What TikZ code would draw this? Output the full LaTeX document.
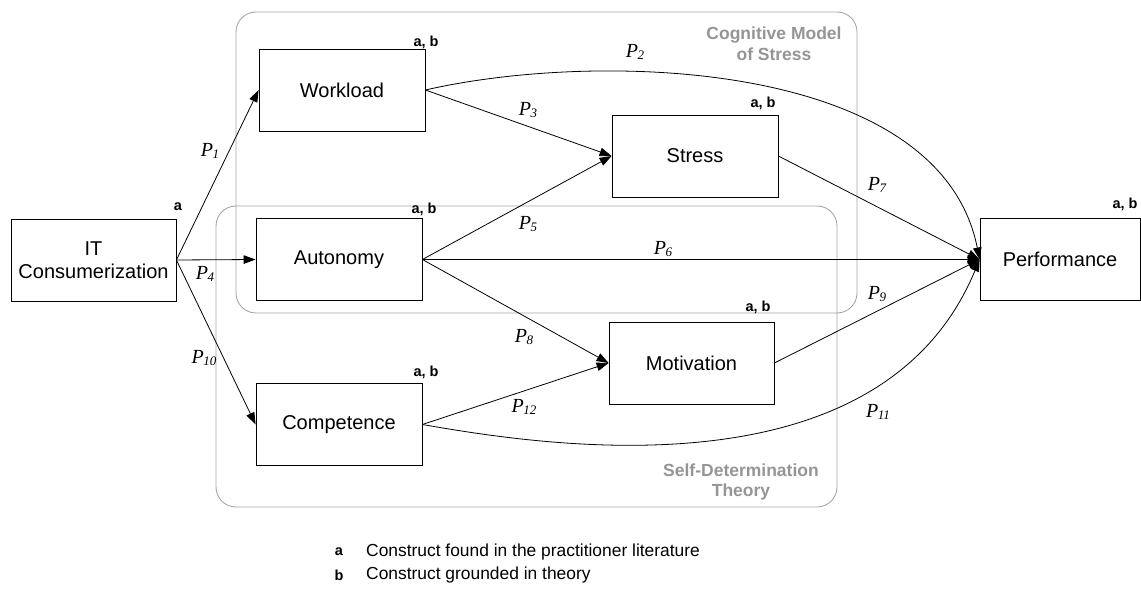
\documentclass[tikz,border=0pt]{standalone}
\usepackage{fontspec}
\setmainfont{Liberation Sans}
\newfontfamily\timfont{Liberation Serif}
\usetikzlibrary{arrows.meta}
\definecolor{framegray}{HTML}{A6A6A6}
\definecolor{labelgray}{HTML}{959595}
\newcommand\Plab[1]{{\timfont\itshape\fontsize{20}{20}\selectfont P\kern-0.5pt\raisebox{-2.8pt}{\fontsize{13}{13}\selectfont #1}}}
\tikzset{
  construct/.style={draw=black, line width=0.8pt, inner sep=0pt, minimum width=166pt, minimum height=82pt, align=center, font=\fontsize{20}{23}\selectfont},
  tag/.style={inner sep=0pt, font=\bfseries\fontsize{14.5}{15}\selectfont},
  frame/.style={draw=framegray, line width=0.9pt, rounded corners=20pt},
  framelabel/.style={inner sep=0pt, align=center, text=labelgray, font=\bfseries\fontsize{17.5}{21}\selectfont},
  link/.style={line width=0.8pt, -{Triangle[length=12pt,width=8.5pt]}},
  plabel/.style={inner sep=0pt},
  legtext/.style={inner sep=0pt, anchor=west, font=\fontsize{17.4}{20}\selectfont}
}
\begin{document}
\begin{tikzpicture}[x=1pt,y=-1pt]
\useasboundingbox (0,0) rectangle (1141,596);
% frames
\draw[frame] (236,12) rectangle (857,313);
\draw[frame] (216,206) rectangle (837,507);
\node[framelabel] (cmlab) at (774,44) {Cognitive Model\\of Stress};
\node[framelabel] (sdtlab) at (741,482) {Self-Determination\\[-1pt]Theory};
% constructs
\node[construct, minimum width=165pt] (it) at (93.5,260) {IT\\Consumerization};
\node[construct] (wl) at (342,90) {Workload};
\node[construct] (st) at (695,156) {Stress};
\node[construct] (au) at (339,259.5) {Autonomy};
\node[construct, minimum width=165pt] (mo) at (691.5,363) {Motivation};
\node[construct] (co) at (339,424.5) {Competence};
\node[construct, minimum width=160pt] (pe) at (1060,259.5) {Performance};
% tags
\node[tag] (tit) at (178,207) {a};
\node[tag] (twl) at (426,42) {a, b};
\node[tag] (tst) at (763,103) {a, b};
\node[tag] (tau) at (424,209) {a, b};
\node[tag] (tmo) at (758,307) {a, b};
\node[tag] (tco) at (426,372) {a, b};
\node[tag] (tpe) at (1125,204) {a, b};
% links
\draw[link] (it.east) -- (wl.west);
\draw[link] (it.east) -- (au.west);
\draw[link] (it.east) -- (co.west);
\draw[link] (wl.east) -- (st.west);
\draw[link] (au.east) -- (st.west);
\draw[link] (au.east) -- (pe.west);
\draw[link] (au.east) -- (mo.west);
\draw[link] (co.east) -- (mo.west);
\draw[link] (st.east) -- (pe.west);
\draw[link] (mo.east) -- (pe.west);
\draw[link] (wl.east) .. controls (600,50) and (940,60) .. (pe.west);
\draw[link] (co.east) .. controls (540,445) and (880,500) .. (pe.west);
% path labels
\node[plabel] (p1) at (210,151) {\Plab{1}};
\node[plabel] (p2) at (635,52) {\Plab{2}};
\node[plabel] (p3) at (528,110) {\Plab{3}};
\node[plabel] (p4) at (205,274) {\Plab{4}};
\node[plabel] (p5) at (528,224) {\Plab{5}};
\node[plabel] (p6) at (663,249) {\Plab{6}};
\node[plabel] (p7) at (877,185) {\Plab{7}};
\node[plabel] (p8) at (524,337) {\Plab{8}};
\node[plabel] (p9) at (877,294) {\Plab{9}};
\node[plabel] (p10) at (204,358) {\Plab{10}};
\node[plabel] (p11) at (878,412) {\Plab{11}};
\node[plabel] (p12) at (524,407) {\Plab{12}};
% legend
\node[tag] (la) at (339,552) {a};
\node[legtext] (lat) at (366,552) {Construct found in the practitioner literature};
\node[tag] (lb) at (339,575) {b};
\node[legtext] (lbt) at (366,575) {Construct grounded in theory};
\end{tikzpicture}
\end{document}
